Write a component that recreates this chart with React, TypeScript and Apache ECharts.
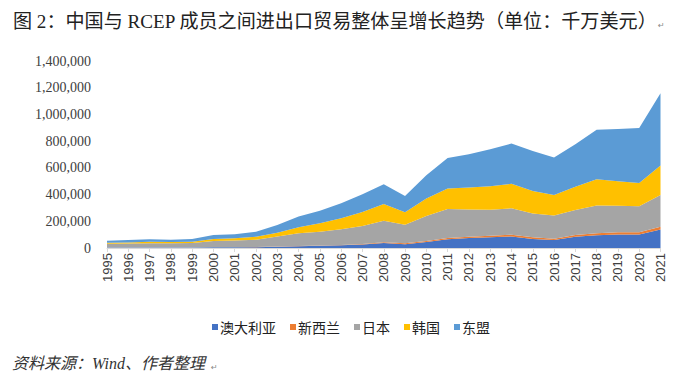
import React, { useEffect, useRef } from "react";
import * as echarts from "echarts";

const years = [
  "1995", "1996", "1997", "1998", "1999", "2000", "2001", "2002", "2003", "2004",
  "2005", "2006", "2007", "2008", "2009", "2010", "2011", "2012", "2013", "2014",
  "2015", "2016", "2017", "2018", "2019", "2020", "2021",
];

// values in thousands (×1000)
const australia = [3, 3, 3.5, 3.5, 4, 5, 5.5, 6.5, 9, 13, 16, 20, 26, 37, 29, 45, 66, 75, 80, 87, 68, 59, 84, 95, 102, 102, 139];
const newZealand = [0.5, 0.5, 0.5, 0.5, 0.6, 0.7, 0.8, 1, 1.5, 2, 2.5, 3, 4, 6, 6, 8, 9, 10, 12, 13, 12, 11, 13, 15, 16, 16, 20];
const japan = [28, 31, 31, 31, 32, 46, 49, 54, 76, 95, 103, 117, 135, 161, 139, 186, 217, 204, 194, 197, 179, 174, 187, 209, 198, 194, 237];
const korea = [8, 7, 12, 10, 10, 15, 17, 23, 28, 45, 63, 82, 105, 125, 93, 132, 154, 164, 177, 184, 167, 152, 174, 196, 184, 174, 222];
const asean = [15, 18, 18, 17, 20, 30, 30, 37, 57, 80, 95, 113, 132, 149, 122, 174, 228, 249, 276, 301, 301, 281, 319, 371, 391, 412, 541];

const seriesNames = ["澳大利亚", "新西兰", "日本", "韩国", "东盟"];
const seriesColors = ["#4472C4", "#ED7D31", "#A5A5A5", "#FFC000", "#5B9BD5"];
const seriesData = [australia, newZealand, japan, korea, asean];

const titleText = "图 2：中国与 RCEP 成员之间进出口贸易整体呈增长趋势（单位：千万美元）";
const sourceText = "资料来源：Wind、作者整理";

export default function App() {
  const ref = useRef<HTMLDivElement>(null);
  useEffect(() => {
    if (!ref.current) return;
    const chart = echarts.init(ref.current, undefined, { renderer: "svg" });
    chart.setOption({
      animation: false,
      backgroundColor: "#ffffff",
      grid: { left: 107, right: 18.5, top: 61, bottom: 131, containLabel: false },
      legend: {
        data: seriesNames,
        left: 207,
        top: 315,
        icon: "rect",
        itemWidth: 6,
        itemHeight: 6,
        itemGap: 14,
        textStyle: { fontFamily: "Noto Sans CJK SC", fontSize: 14, color: "#222", padding: [0, 0, 0, -3] },
      },
      xAxis: {
        type: "category",
        data: years,
        boundaryGap: false,
        axisLine: { show: true, lineStyle: { color: "#D9D9D9", width: 1 } },
        axisTick: { show: true, length: 4, lineStyle: { color: "#D9D9D9" } },
        axisLabel: {
          rotate: 90,
          interval: 0,
          margin: 5,
          fontFamily: "Liberation Sans",
          fontSize: 13,
          color: "#404040",
        },
      },
      yAxis: {
        type: "value",
        min: 0,
        max: 1400000,
        interval: 200000,
        axisLine: { show: false },
        axisTick: { show: false },
        splitLine: { show: false },
        axisLabel: {
          margin: 16,
          fontFamily: "Liberation Serif",
          fontSize: 14,
          color: "#404040",
          formatter: (v: number) => v.toLocaleString("en-US"),
        },
      },
      series: seriesNames.map((name, i) => ({
        name,
        type: "line",
        stack: "total",
        data: seriesData[i].map((v) => v * 1000),
        showSymbol: false,
        symbol: "none",
        lineStyle: { width: 0 },
        itemStyle: { color: seriesColors[i] },
        areaStyle: { color: seriesColors[i], opacity: 1 },
      })),
      graphic: [
        {
          type: "text",
          left: 13,
          top: 12,
          style: {
            text: titleText,
            fontFamily: "Liberation Serif, Noto Sans CJK SC",
            fontSize: 19.1,
            fill: "#222",
          },
        },
        {
          type: "text",
          left: 658,
          top: 21,
          style: { text: "↵", fontFamily: "DejaVu Sans", fontSize: 8, fill: "#888" },
        },
        {
          type: "text",
          left: 12,
          top: 355,
          style: {
            text: sourceText,
            fontFamily: "Liberation Serif, Noto Sans CJK SC",
            fontStyle: "italic",
            fontSize: 16,
            fill: "#333",
          },
        },
        {
          type: "text",
          left: 211,
          top: 363,
          style: { text: "↵", fontFamily: "DejaVu Sans", fontSize: 8, fill: "#888" },
        },
      ],
    });
    return () => chart.dispose();
  }, []);
  return (
    <div
      ref={ref}
      style={{ position: "fixed", left: 0, top: 0, width: 679, height: 379 }}
    />
  );
}
